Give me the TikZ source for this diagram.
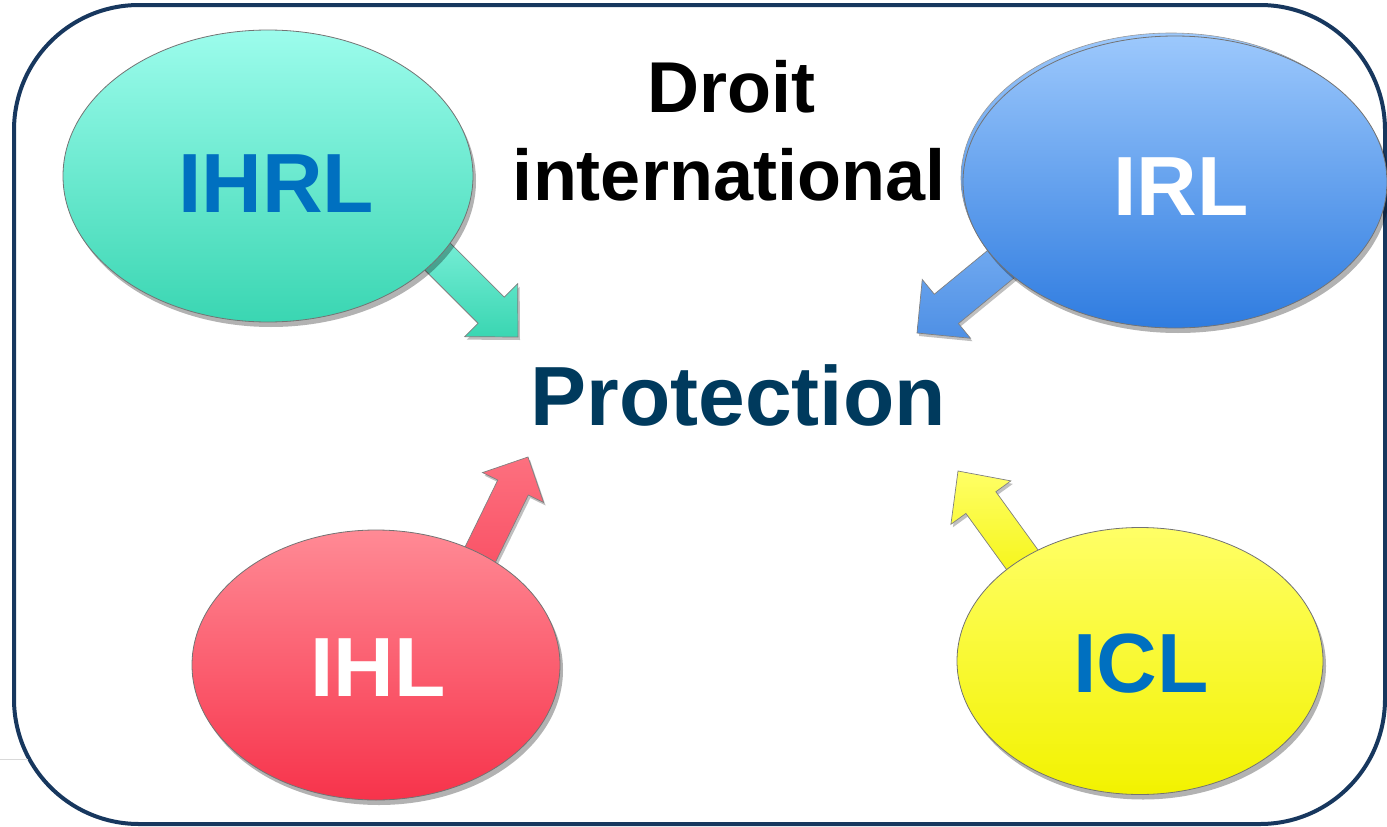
\documentclass[tikz,border=0pt]{standalone}
\usepackage{fontspec}
\setmainfont{Liberation Sans}
\usetikzlibrary{shapes.geometric,shadows,calc}
\pgfdeclarelayer{back}
\pgfdeclarelayer{mid}
\pgfsetlayers{back,mid,main}
\definecolor{framec}{HTML}{17375E}
\definecolor{tealtop}{HTML}{9CFCEC}
\definecolor{tealbot}{HTML}{3AD6B2}
\definecolor{bluetop}{HTML}{9CC8FC}
\definecolor{bluebot}{HTML}{2F7CE0}
\definecolor{redtop}{HTML}{FF8A95}
\definecolor{redbot}{HTML}{F7334B}
\definecolor{yeltop}{HTML}{FFFF66}
\definecolor{yelbot}{HTML}{F2F200}
\definecolor{lawblue}{HTML}{0070C0}
\definecolor{protc}{HTML}{003A5D}
\newcommand\barrow[7]{%
  \path ($(#2)!#7!(#1)$) coordinate (hb#3);
  \draw[#4] ($(#1)!#5!90:(#2)$) -- ($(hb#3)!#5!90:(#2)$) -- ($(hb#3)!#6!90:(#2)$)
    -- (#2) -- ($(hb#3)!#6!-90:(#2)$) -- ($(hb#3)!#5!-90:(#2)$) -- ($(#1)!#5!-90:(#2)$) -- cycle;
}
\begin{document}
\begin{tikzpicture}[x=1pt,y=-1pt,
  oval/.style={ellipse, draw=black!55, line width=0.8pt, inner sep=0pt,
    drop shadow={shadow xshift=3pt,shadow yshift=-5pt,opacity=0.3,fill=black}},
  lawtext/.style={anchor=base, font=\bfseries\fontsize{84}{84}\selectfont},
  blockarr/.style={draw=black!50, line width=0.7pt, line join=miter,
    drop shadow={shadow xshift=2pt,shadow yshift=-3pt,opacity=0.25,fill=black}},
  titletext/.style={anchor=base, font=\bfseries\fontsize{72}{72}\selectfont}]
\useasboundingbox (0,0) rectangle (1387,827);
\begin{pgfonlayer}{back}
  \draw[framec, line width=4pt, rounded corners=125pt] (14,5) rectangle (1385,824);
  \draw[black!15, line width=1pt] (0,759) -- (28,759);
\end{pgfonlayer}

% ellipses
\node[oval, minimum width=410pt, minimum height=292pt, top color=tealtop, bottom color=tealbot] (IHRL) at (268,176) {};
\node[ellipse, draw=black!40, line width=0.6pt, minimum width=420pt, minimum height=290pt, top color=bluetop, bottom color=bluebot] (IRLback) at (1171,178) {};
\node[oval, minimum width=424pt, minimum height=292pt, top color=bluetop, bottom color=bluebot] (IRL) at (1175,182) {};
\node[oval, minimum width=368pt, minimum height=270pt, top color=redtop, bottom color=redbot] (IHL) at (376,665) {};
\node[oval, minimum width=366pt, minimum height=267pt, top color=yeltop, bottom color=yelbot] (ICL) at (1140,661) {};

% arrow end points
\coordinate (s1) at (405,224); \coordinate (t1) at (518,337);
\coordinate (s2) at (1040,232); \coordinate (t2) at (917,333);
\coordinate (s3) at (458,600); \coordinate (t3) at (528,457);
\coordinate (s4) at (1050,598); \coordinate (t4) at (958,471);
\begin{pgfonlayer}{mid}
  \barrow{s1}{t1}{a}{blockarr, top color=tealtop!80!tealbot, bottom color=tealbot}{18.5pt}{37.5pt}{38pt}
  \barrow{s2}{t2}{b}{blockarr, top color=bluetop!70!bluebot, bottom color=bluebot!85!white}{19pt}{38pt}{38pt}
  \barrow{s3}{t3}{c}{blockarr, top color=redtop!70!redbot, bottom color=redbot!90!white}{17pt}{34pt}{34pt}
  \barrow{s4}{t4}{d}{blockarr, top color=yeltop, bottom color=yelbot}{18.5pt}{37pt}{39pt}
\end{pgfonlayer}

% texts
\node[lawtext, text=lawblue] (IHRLt) at (276,212) {IHRL};
\node[lawtext, text=white] (IRLt) at (1181,215) {IRL};
\node[lawtext, text=white] (IHLt) at (378,696) {IHL};
\node[lawtext, text=lawblue] (ICLt) at (1141,692) {ICL};
\node[lawtext, text=protc] (prot) at (738,425) {Protection};
\node[titletext] (droit) at (731,112) {Droit};
\node[titletext] (intl) at (729,200) {international};
\end{tikzpicture}
\end{document}
